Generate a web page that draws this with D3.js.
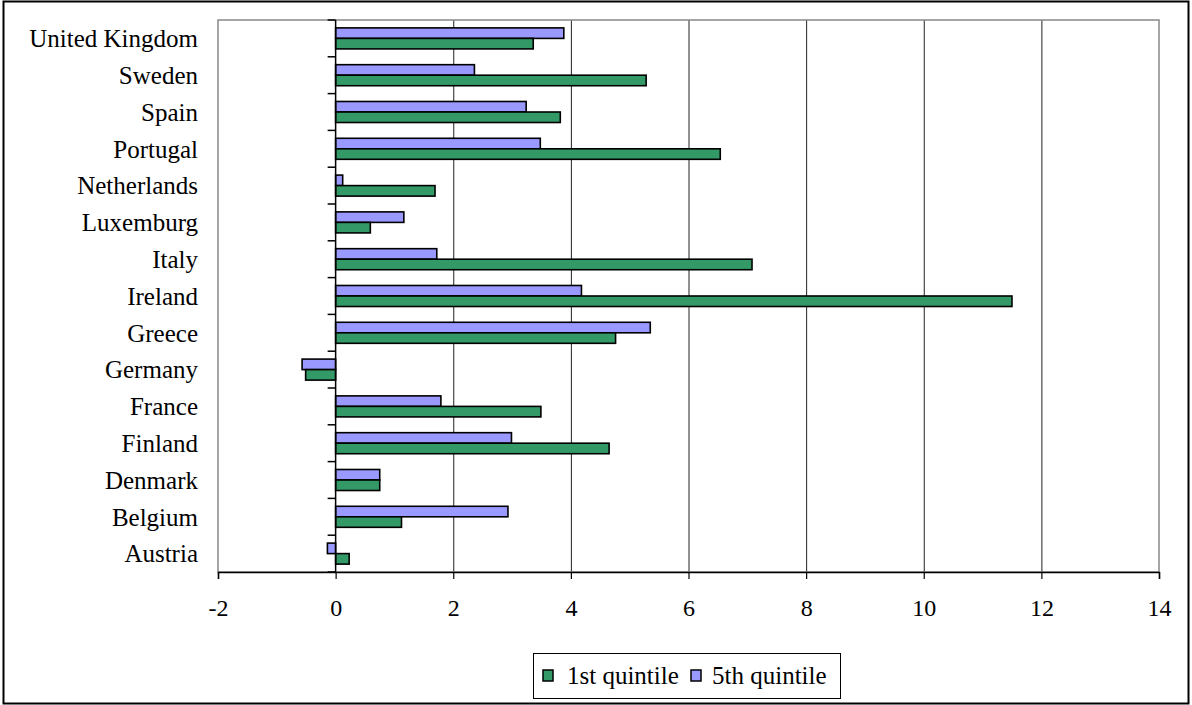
<!DOCTYPE html>
<html>
<head>
<meta charset="utf-8">
<script src="https://cdn.jsdelivr.net/npm/d3@7"></script>
<style>
  html, body { margin: 0; padding: 0; background: #fff; }
  svg { display: block; }
  text { font-family: "Liberation Serif", "Times New Roman", serif; fill: #000; }
</style>
</head>
<body>
<svg id="chart" width="1192" height="705"></svg>
<script>
// Categories listed bottom-to-top (first category sits at the bottom of the axis)
const countries = ["Austria", "Belgium", "Denmark", "Finland", "France", "Germany", "Greece",
  "Ireland", "Italy", "Luxemburg", "Netherlands", "Portugal", "Spain", "Sweden", "United Kingdom"];
const quintile1 = [0.23, 1.12, 0.75, 4.65, 3.49, -0.51, 4.76, 11.5, 7.08, 0.59, 1.69, 6.54, 3.82, 5.28, 3.36];
const quintile5 = [-0.14, 2.93, 0.75, 2.99, 1.79, -0.57, 5.35, 4.18, 1.72, 1.16, 0.12, 3.48, 3.24, 2.36, 3.88];
const seriesNames = ["1st quintile", "5th quintile"];
const seriesColors = ["#339966", "#9999ff"];
const xTicks = [-2, 0, 2, 4, 6, 8, 10, 12, 14];

const svg = d3.select("#chart");
const W = 1192, H = 705;
const plot = { left: 218, right: 1159, top: 20, bottom: 572 };
const serif = "'Liberation Serif', 'Times New Roman', serif";

// Outer chart frame
svg.append("rect")
  .attr("x", 3.5).attr("y", 1.5).attr("width", W - 7).attr("height", H - 3)
  .attr("fill", "#fff").attr("stroke", "#000").attr("stroke-width", 2);

const x = d3.scaleLinear().domain([-2, 14]).range([plot.left, plot.right]);
// Top-to-bottom display order
const y = d3.scaleBand().domain(countries.slice().reverse()).range([plot.top, plot.bottom]);
const bandH = y.bandwidth();
const barH = bandH / 3.5; // two bars plus a 150% gap

// Vertical gridlines
svg.append("g").selectAll("line")
  .data(xTicks.filter(t => t > 0 && t < 14))
  .join("line")
  .attr("x1", d => x(d) + 0.5).attr("x2", d => x(d) + 0.5)
  .attr("y1", plot.top).attr("y2", plot.bottom)
  .attr("stroke", "#222").attr("stroke-width", 1);

// Plot area border
svg.append("rect")
  .attr("x", plot.left).attr("y", plot.top)
  .attr("width", plot.right - plot.left).attr("height", plot.bottom - plot.top)
  .attr("fill", "none").attr("stroke", "#888").attr("stroke-width", 1.5);

// Bars
const rows = countries.map((c, i) => ({ c, v1: quintile1[i], v5: quintile5[i] }));
const pairTop = c => y(c) + (bandH - 2 * barH) / 2;

const gBars = svg.append("g").attr("stroke", "#000").attr("stroke-width", 1.6);
gBars.selectAll("rect.q5").data(rows).join("rect")
  .attr("class", "q5")
  .attr("x", d => x(Math.min(0, d.v5)))
  .attr("width", d => Math.abs(x(d.v5) - x(0)))
  .attr("y", d => pairTop(d.c))
  .attr("height", barH)
  .attr("fill", seriesColors[1]);
gBars.selectAll("rect.q1").data(rows).join("rect")
  .attr("class", "q1")
  .attr("x", d => x(Math.min(0, d.v1)))
  .attr("width", d => Math.abs(x(d.v1) - x(0)))
  .attr("y", d => pairTop(d.c) + barH)
  .attr("height", barH)
  .attr("fill", seriesColors[0]);

// Category axis at zero
svg.append("line")
  .attr("x1", x(0)).attr("x2", x(0)).attr("y1", plot.top).attr("y2", plot.bottom)
  .attr("stroke", "#000").attr("stroke-width", 1.5);
const boundaries = d3.range(countries.length + 1).map(i => plot.top + i * bandH);
svg.append("g").selectAll("line").data(boundaries).join("line")
  .attr("x1", x(0) - 8).attr("x2", x(0))
  .attr("y1", d => d).attr("y2", d => d)
  .attr("stroke", "#000").attr("stroke-width", 1.5);

// Category labels
svg.append("g").selectAll("text").data(countries).join("text")
  .attr("x", 198)
  .attr("y", d => y(d) + bandH / 2)
  .attr("dy", "0.35em")
  .attr("text-anchor", "end")
  .style("font-family", serif)
  .attr("font-size", 25)
  .text(d => d);

// Value axis
const xAxis = d3.axisBottom(x).tickValues(xTicks).tickSize(7).tickPadding(20).tickFormat(d => String(d));
const gx = svg.append("g").attr("transform", `translate(0,${plot.bottom})`).call(xAxis);
gx.select(".domain").attr("stroke", "#000").attr("stroke-width", 1.5);
gx.selectAll(".tick line").attr("stroke", "#000").attr("stroke-width", 1.2);
gx.selectAll(".tick text")
  .style("font-family", serif)
  .attr("font-size", 24).attr("fill", "#000");

// Legend
const lg = svg.append("g");
lg.append("rect").attr("x", 533.5).attr("y", 653.5).attr("width", 307).attr("height", 45)
  .attr("fill", "#fff").attr("stroke", "#000").attr("stroke-width", 1);
const legendItems = [
  { name: seriesNames[0], color: seriesColors[0], sx: 543, tx: 567 },
  { name: seriesNames[1], color: seriesColors[1], sx: 691, tx: 712 }
];
legendItems.forEach(it => {
  lg.append("rect").attr("x", it.sx).attr("y", 670).attr("width", 10).attr("height", 11)
    .attr("fill", it.color).attr("stroke", "#000").attr("stroke-width", 1.5);
  lg.append("text").attr("x", it.tx).attr("y", 684)
    .style("font-family", serif).attr("font-size", 25).text(it.name);
});
</script>
</body>
</html>
